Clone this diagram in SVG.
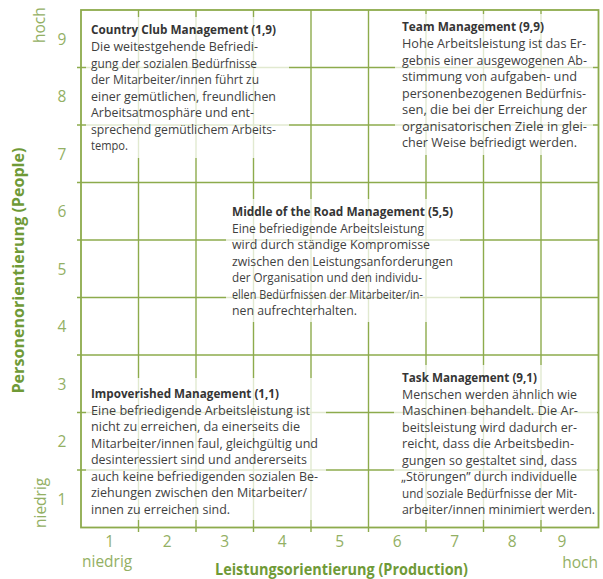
<svg xmlns="http://www.w3.org/2000/svg" width="603" height="579" viewBox="0 0 603 579">
  <style>
    .grid line { stroke: #8dab4c; stroke-width: 1.4; }
    .frame { fill: none; stroke: #8dab4c; stroke-width: 1.8; }
    .veil { fill: #ffffff; fill-opacity: 0.74; }
    text { font-family: "Open Sans", "Noto Sans", "DejaVu Sans", sans-serif; }
    .body { font-size: 12.5px; fill: #3f3f3f; }
    .head { font-weight: 700; fill: #353535; }
    .num { font-size: 15.5px; fill: #93b064; }
    .lvl { font-size: 15.5px; fill: #93b064; }
    .axis { font-size: 15.5px; font-weight: 700; fill: #6f9a37; }
  </style>

  <!-- 9x9 grid: inner lines stick out as ticks on the left and bottom -->
  <g id="grid" class="grid">
    <line x1="77" y1="67.5" x2="598.5" y2="67.5"/>
    <line x1="77" y1="125" x2="598.5" y2="125"/>
    <line x1="77" y1="182.5" x2="598.5" y2="182.5"/>
    <line x1="77" y1="240" x2="598.5" y2="240"/>
    <line x1="77" y1="297.5" x2="598.5" y2="297.5"/>
    <line x1="77" y1="355" x2="598.5" y2="355"/>
    <line x1="77" y1="412.5" x2="598.5" y2="412.5"/>
    <line x1="77" y1="470" x2="598.5" y2="470"/>
    <line x1="138.5" y1="10" x2="138.5" y2="532"/>
    <line x1="196" y1="10" x2="196" y2="532"/>
    <line x1="253.5" y1="10" x2="253.5" y2="532"/>
    <line x1="311" y1="10" x2="311" y2="532"/>
    <line x1="368.5" y1="10" x2="368.5" y2="532"/>
    <line x1="426" y1="10" x2="426" y2="532"/>
    <line x1="483.5" y1="10" x2="483.5" y2="532"/>
    <line x1="541" y1="10" x2="541" y2="532"/>
    <rect class="frame" x="81" y="10" width="517.5" height="517.5"/>
  </g>

  <!-- axis scales -->
  <g id="y-scale" class="num" text-anchor="middle">
    <text x="62" y="45">9</text>
    <text x="62" y="102">8</text>
    <text x="62" y="160">7</text>
    <text x="62" y="217">6</text>
    <text x="62" y="275">5</text>
    <text x="62" y="332">4</text>
    <text x="62" y="390">3</text>
    <text x="62" y="447">2</text>
    <text x="62" y="505">1</text>
  </g>
  <g id="x-scale" class="num" text-anchor="middle">
    <text x="109.75" y="546.5">1</text>
    <text x="167.25" y="546.5">2</text>
    <text x="224.75" y="546.5">3</text>
    <text x="282.25" y="546.5">4</text>
    <text x="339.75" y="546.5">5</text>
    <text x="397.25" y="546.5">6</text>
    <text x="454.75" y="546.5">7</text>
    <text x="512.25" y="546.5">8</text>
    <text x="562" y="546.5">9</text>
  </g>

  <!-- axis end labels and titles -->
  <g id="axis-labels">
    <text class="lvl" transform="translate(45 43) rotate(-90)">hoch</text>
    <text class="lvl" transform="translate(46 528) rotate(-90)">niedrig</text>
    <text class="lvl" x="82" y="567">niedrig</text>
    <text class="lvl" x="598" y="568" text-anchor="end">hoch</text>
    <text class="axis" transform="translate(24 270.5) rotate(-90)" text-anchor="middle" textLength="246" lengthAdjust="spacingAndGlyphs">Personenorientierung (People)</text>
    <text class="axis" x="215" y="575" textLength="253" lengthAdjust="spacingAndGlyphs">Leistungsorientierung (Production)</text>
  </g>

  <!-- style 1,9 -->
  <g id="country-club">
    <rect class="veil" x="86" y="17" width="203" height="141"/>
    <g class="body">
      <text class="head" x="91" y="34" textLength="185" lengthAdjust="spacingAndGlyphs">Country Club Management (1,9)</text>
      <text x="91" y="51" textLength="167" lengthAdjust="spacingAndGlyphs">Die weitestgehende Befriedi-</text>
      <text x="91" y="67.5" textLength="166" lengthAdjust="spacingAndGlyphs">gung der sozialen Bedürfnisse</text>
      <text x="91" y="84" textLength="168" lengthAdjust="spacingAndGlyphs">der Mitarbeiter/innen führt zu</text>
      <text x="91" y="100.5" textLength="185" lengthAdjust="spacingAndGlyphs">einer gemütlichen, freundlichen</text>
      <text x="91" y="117" textLength="163" lengthAdjust="spacingAndGlyphs">Arbeitsatmosphäre und ent-</text>
      <text x="91" y="133.5" textLength="185" lengthAdjust="spacingAndGlyphs">sprechend gemütlichem Arbeits-</text>
      <text x="91" y="150" textLength="37" lengthAdjust="spacingAndGlyphs">tempo.</text>
    </g>
  </g>

  <!-- style 9,9 -->
  <g id="team">
    <rect class="veil" x="395" y="14" width="198" height="141"/>
    <g class="body">
      <text class="head" x="402" y="31" textLength="142" lengthAdjust="spacingAndGlyphs">Team Management (9,9)</text>
      <text x="402" y="48" textLength="184" lengthAdjust="spacingAndGlyphs">Hohe Arbeitsleistung ist das Er-</text>
      <text x="402" y="64.5" textLength="185" lengthAdjust="spacingAndGlyphs">gebnis einer ausgewogenen Ab-</text>
      <text x="402" y="81" textLength="175" lengthAdjust="spacingAndGlyphs">stimmung von aufgaben- und</text>
      <text x="402" y="97.5" textLength="184" lengthAdjust="spacingAndGlyphs">personenbezogenen Bedürfnis-</text>
      <text x="402" y="114" textLength="185" lengthAdjust="spacingAndGlyphs">sen, die bei der Erreichung der</text>
      <text x="402" y="130.5" textLength="185" lengthAdjust="spacingAndGlyphs">organisatorischen Ziele in glei-</text>
      <text x="402" y="147" textLength="175" lengthAdjust="spacingAndGlyphs">cher Weise befriedigt werden.</text>
    </g>
  </g>

  <!-- style 5,5 -->
  <g id="middle-of-the-road">
    <rect class="veil" x="226" y="199" width="234" height="123"/>
    <g class="body">
      <text class="head" x="232" y="216" textLength="221" lengthAdjust="spacingAndGlyphs">Middle of the Road Management (5,5)</text>
      <text x="232" y="232.5" textLength="192" lengthAdjust="spacingAndGlyphs">Eine befriedigende Arbeitsleistung</text>
      <text x="232" y="249" textLength="198" lengthAdjust="spacingAndGlyphs">wird durch ständige Kompromisse</text>
      <text x="232" y="265.5" textLength="221" lengthAdjust="spacingAndGlyphs">zwischen den Leistungsanforderungen</text>
      <text x="232" y="282" textLength="190" lengthAdjust="spacingAndGlyphs">der Organisation und den individu-</text>
      <text x="232" y="298.5" textLength="191" lengthAdjust="spacingAndGlyphs">ellen Bedürfnissen der Mitarbeiter/in-</text>
      <text x="232" y="315" textLength="125" lengthAdjust="spacingAndGlyphs">nen aufrechterhalten.</text>
    </g>
  </g>

  <!-- style 1,1 -->
  <g id="impoverished">
    <rect class="veil" x="86" y="378" width="240" height="142"/>
    <g class="body">
      <text class="head" x="91" y="398" textLength="188" lengthAdjust="spacingAndGlyphs">Impoverished Management (1,1)</text>
      <text x="91" y="414.5" textLength="219" lengthAdjust="spacingAndGlyphs">Eine befriedigende Arbeitsleistung ist</text>
      <text x="91" y="431" textLength="209" lengthAdjust="spacingAndGlyphs">nicht zu erreichen, da einerseits die</text>
      <text x="91" y="447.5" textLength="227" lengthAdjust="spacingAndGlyphs">Mitarbeiter/innen faul, gleichgültig und</text>
      <text x="91" y="464" textLength="216" lengthAdjust="spacingAndGlyphs">desinteressiert sind und andererseits</text>
      <text x="91" y="480.5" textLength="227" lengthAdjust="spacingAndGlyphs">auch keine befriedigenden sozialen Be-</text>
      <text x="91" y="497" textLength="216" lengthAdjust="spacingAndGlyphs">ziehungen zwischen den Mitarbeiter/</text>
      <text x="91" y="513.5" textLength="139" lengthAdjust="spacingAndGlyphs">innen zu erreichen sind.</text>
    </g>
  </g>

  <!-- style 9,1 -->
  <g id="task">
    <rect class="veil" x="394" y="365" width="203" height="155"/>
    <g class="body">
      <text class="head" x="402" y="382" textLength="135" lengthAdjust="spacingAndGlyphs">Task Management (9,1)</text>
      <text x="402" y="398.5" textLength="175" lengthAdjust="spacingAndGlyphs">Menschen werden ähnlich wie</text>
      <text x="402" y="415" textLength="176" lengthAdjust="spacingAndGlyphs">Maschinen behandelt. Die Ar-</text>
      <text x="402" y="431.5" textLength="175" lengthAdjust="spacingAndGlyphs">beitsleistung wird dadurch er-</text>
      <text x="402" y="448" textLength="172" lengthAdjust="spacingAndGlyphs">reicht, dass die Arbeitsbedin-</text>
      <text x="402" y="464.5" textLength="175" lengthAdjust="spacingAndGlyphs">gungen so gestaltet sind, dass</text>
      <text x="401" y="481" textLength="176" lengthAdjust="spacingAndGlyphs">„Störungen” durch individuelle</text>
      <text x="402" y="497.5" textLength="175" lengthAdjust="spacingAndGlyphs">und soziale Bedürfnisse der Mit-</text>
      <text x="402" y="514" textLength="193" lengthAdjust="spacingAndGlyphs">arbeiter/innen minimiert werden.</text>
    </g>
  </g>
</svg>
